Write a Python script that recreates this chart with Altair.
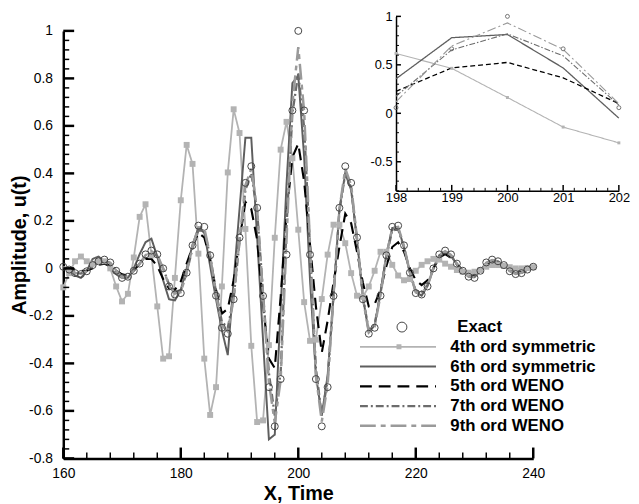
import altair as alt
import pandas as pd

# ---------------- data ----------------
x_vals = list(range(160, 241))

exact = [0.007, -0.005, -0.02, -0.024, -0.012, 0.014, 0.03, 0.037, 0.025, -0.01,
         -0.04, -0.035, -0.01, 0.02, 0.059, 0.075, 0.059, 0.0, -0.076, -0.11,
         -0.104, -0.018, 0.097, 0.18, 0.175, 0.055, -0.115, -0.25, -0.275, -0.13,
         0.13, 0.36, 0.43, 0.255, -0.116, -0.5, -0.665, -0.466, 0.058, 0.665,
         1.0,
         0.665, 0.058, -0.466, -0.665, -0.5, -0.116, 0.255, 0.43, 0.36, 0.13,
         -0.13, -0.275, -0.25, -0.115, 0.055, 0.175, 0.18, 0.097, -0.018, -0.104,
         -0.11, -0.076, 0.0, 0.059, 0.075, 0.059, 0.02, -0.01, -0.035, -0.04,
         -0.01, 0.025, 0.037, 0.03, 0.014, -0.012, -0.024, -0.02, -0.005, 0.007]

sym4 = [-0.08, -0.02, 0.03, 0.05, 0.03, 0.02, 0.03, 0.03, 0.0, -0.076,
        -0.139, -0.107, 0.046, 0.217, 0.27, 0.055, -0.16, -0.38, -0.37, -0.04,
        0.287, 0.52, 0.44, 0.062, -0.38, -0.617, -0.5, -0.076, 0.404, 0.67,
        0.57, 0.166, -0.326, -0.647, -0.64, -0.323, 0.129, 0.5, 0.617, 0.464,
        0.163,
        -0.142, -0.305, -0.30, -0.129, 0.058, 0.184, 0.184, 0.106, -0.02, -0.115,
        -0.12, -0.076, -0.01, 0.07, 0.07, 0.015, -0.03, -0.05, -0.045, -0.01,
        0.015, 0.03, 0.04, 0.037, 0.02, 0.007, -0.007, -0.014, -0.018, -0.014,
        -0.007, 0.007, 0.014, 0.014, 0.01, 0.005, 0.0, 0.0, 0.002, 0.005]

sym6 = [0.0, -0.005, -0.03, -0.04, -0.01, 0.04, 0.05, 0.03, 0.0, -0.025,
        -0.04, -0.04, 0.0, 0.06, 0.11, 0.125, 0.05, -0.05, -0.13, -0.135,
        -0.09, 0.0, 0.1, 0.17, 0.15, 0.01, -0.13, -0.26, -0.365, -0.05,
        0.25, 0.55, 0.55, 0.13, -0.3, -0.72, -0.70, -0.17, 0.356, 0.78,
        0.813,
        0.468, -0.05, -0.45, -0.62, -0.45, -0.12, 0.25, 0.40, 0.33, 0.12,
        -0.12, -0.27, -0.24, -0.1, 0.06, 0.17, 0.17, 0.09, -0.02, -0.1,
        -0.115, -0.075, 0.0, 0.055, 0.07, 0.055, 0.015, -0.015, -0.035, -0.035,
        -0.01, 0.02, 0.035, 0.03, 0.015, -0.005, -0.02, -0.02, -0.005, 0.005]

weno5 = [0.0, 0.0, -0.005, -0.01, -0.01, 0.0, 0.015, 0.02, 0.01, -0.01,
         -0.025, -0.03, -0.01, 0.02, 0.04, 0.04, 0.01, -0.045, -0.085, -0.09,
         -0.055, 0.02, 0.09, 0.15, 0.13, 0.04, -0.09, -0.19, -0.17, -0.05,
         0.12, 0.28, 0.25, 0.12, -0.15, -0.38, -0.42, -0.12, 0.227, 0.468,
         0.525,
         0.366, 0.10, -0.16, -0.355, -0.22, -0.06, 0.09, 0.23, 0.19, 0.07,
         -0.06, -0.16, -0.15, -0.09, 0.01, 0.09, 0.11, 0.07, 0.0, -0.05,
         -0.07, -0.05, 0.0, 0.045, 0.06, 0.045, 0.02, -0.01, -0.03, -0.03,
         -0.01, 0.015, 0.028, 0.025, 0.01, -0.005, -0.014, -0.01, 0.0, 0.005]

weno7 = [0.005, -0.005, -0.018, -0.022, -0.01, 0.012, 0.027, 0.033, 0.022, -0.008,
         -0.035, -0.032, -0.01, 0.02, 0.052, 0.067, 0.052, 0.0, -0.068, -0.098,
         -0.093, -0.018, 0.085, 0.16, 0.158, 0.052, -0.1, -0.225, -0.25, -0.125,
         0.11, 0.33, 0.4, 0.24, -0.1, -0.44, -0.62, -0.44, 0.176, 0.654,
         0.82,
         0.593, 0.085, -0.42, -0.62, -0.47, -0.11, 0.24, 0.4, 0.34, 0.12,
         -0.12, -0.26, -0.235, -0.105, 0.05, 0.16, 0.165, 0.088, -0.016, -0.095,
         -0.1, -0.07, 0.0, 0.054, 0.068, 0.054, 0.018, -0.009, -0.032, -0.036,
         -0.009, 0.022, 0.033, 0.027, 0.012, -0.011, -0.022, -0.018, -0.005, 0.006]

weno9 = [0.006, -0.005, -0.019, -0.023, -0.011, 0.013, 0.029, 0.035, 0.024, -0.009,
         -0.038, -0.034, -0.01, 0.02, 0.056, 0.072, 0.057, 0.0, -0.073, -0.106,
         -0.1, -0.018, 0.093, 0.173, 0.17, 0.054, -0.11, -0.24, -0.265, -0.128,
         0.125, 0.35, 0.42, 0.25, -0.11, -0.48, -0.65, -0.47, 0.119, 0.695,
         0.932,
         0.66, 0.10, -0.45, -0.645, -0.49, -0.115, 0.248, 0.42, 0.35, 0.127,
         -0.126, -0.268, -0.245, -0.112, 0.054, 0.17, 0.175, 0.094, -0.017, -0.1,
         -0.106, -0.073, 0.0, 0.057, 0.072, 0.057, 0.019, -0.01, -0.034, -0.038,
         -0.01, 0.024, 0.035, 0.029, 0.013, -0.011, -0.023, -0.019, -0.005, 0.006]

series_names = ["4th ord symmetric", "6th ord symmetric", "5th ord WENO",
                "7th ord WENO", "9th ord WENO"]
series_values = [sym4, sym6, weno5, weno7, weno9]

main_x_ticks = [160, 180, 200, 220, 240]
main_y_ticks = [-0.8, -0.6, -0.4, -0.2, 0, 0.2, 0.4, 0.6, 0.8, 1]
inset_x_ticks = [198, 199, 200, 201, 202]
inset_y_ticks = [-0.5, 0, 0.5, 1]

for v in [exact] + series_values:
    assert len(v) == len(x_vals), len(v)

# ---------------- styles ----------------
FONT = "Liberation Sans"
series_colors = ["#b3b3b3", "#5e5e5e", "#000000", "#6c6c6c", "#9a9a9a"]
series_dash = [[1, 0], [1, 0], [12, 7], [8, 3, 2, 3], [16, 5, 5, 5]]
series_width = [1.8, 2.5, 2.5, 2.0, 2.0]
inset_dash = [[1, 0], [1, 0], [5, 3], [6, 2, 1.5, 2], [9, 3, 2, 3]]
inset_width = [1.1, 1.3, 1.3, 1.1, 1.1]

W, H = 476, 433
IX0, IX1 = 337.0, 562.7     # inset x range (plot px)
IY0, IY1 = 162.0, -14.7     # inset y range (bottom, top)

# ---------------- frames ----------------
rows = []
for name, vals in zip(series_names, series_values):
    for xv, yv in zip(x_vals, vals):
        rows.append({"x": xv, "y": yv, "method": name})
lines_df = pd.DataFrame(rows)
exact_df = pd.DataFrame({"x": x_vals, "y": exact, "label": "Exact"})
sym4_df = pd.DataFrame({"x": x_vals, "y": sym4, "marker": "sq"})

inset_lines = lines_df[(lines_df.x >= 198) & (lines_df.x <= 202)]
inset_exact = exact_df[(exact_df.x >= 198) & (exact_df.x <= 202)]
inset_sym4 = sym4_df[(sym4_df.x >= 198) & (sym4_df.x <= 202)]

main_x_minor = [v for v in range(160, 241, 4) if v not in main_x_ticks]
main_y_minor = [round(-0.8 + 0.04 * i, 2) for i in range(46)]
main_y_minor = [v for v in main_y_minor if min(abs(v - t) for t in main_y_ticks) > 1e-6]
inset_x_minor = [round(198 + 0.2 * i, 1) for i in range(21)]
inset_x_minor = [v for v in inset_x_minor if min(abs(v - t) for t in inset_x_ticks) > 1e-6]
inset_y_minor = [round(-0.8 + 0.1 * i, 1) for i in range(19)]
inset_y_minor = [v for v in inset_y_minor if min(abs(v - t) for t in inset_y_ticks) > 1e-6]

# ---------------- scales / axes ----------------
XS = alt.Scale(domain=[160, 240], nice=False, zero=False)
YS = alt.Scale(domain=[-0.8, 1], nice=False, zero=False)
IXS = alt.Scale(domain=[198, 202], range=[IX0, IX1], nice=False, zero=False)
IYS = alt.Scale(domain=[-0.8, 1], range=[IY0, IY1], nice=False, zero=False)

common_axis = dict(ticks=False, tickSize=0, grid=False, domainColor="black",
                   labelColor="black", labelFont=FONT, labelFlush=False,
                   labelOverlap=False, labelExpr="toString(datum.value)")

x_axis = alt.Axis(values=main_x_ticks, domainWidth=2.5, labelFontSize=14,
                  labelPadding=8, title="X, Time", titleFont=FONT,
                  titleFontSize=20, titleFontWeight="bold", titleColor="black",
                  titleBaseline="middle", titleY=36, **common_axis)
y_axis = alt.Axis(values=main_y_ticks, domainWidth=2.5, labelFontSize=14,
                  labelPadding=11, title="Amplitude, u(t)", titleFont=FONT,
                  titleFontSize=20, titleFontWeight="bold", titleColor="black",
                  titleBaseline="middle", titleX=-44, titleY=H / 2, titleAngle=270,
                  **common_axis)
ix_axis = alt.Axis(orient="bottom", offset=-(H - IY0), values=inset_x_ticks,
                   domainWidth=1.5, labelFontSize=13, labelPadding=1, title=None,
                   **common_axis)
iy_axis = alt.Axis(orient="left", offset=-IX0, values=inset_y_ticks,
                   domainWidth=1.5, labelFontSize=13, labelPadding=4, title=None,
                   **common_axis)

LEG_Y0 = 310
line_leg = alt.Legend(title=None, orient="none", legendX=299, legendY=LEG_Y0,
                      symbolType="stroke", symbolSize=77 * 77, labelFont=FONT,
                      labelFontSize=17, labelFontWeight="bold", labelColor="black",
                      labelOffset=13, clipHeight=20, rowPadding=0, padding=0)
exact_leg = alt.Legend(title=None, orient="none", legendX=334.5, legendY=LEG_Y0 - 20,
                       labelFont=FONT, labelFontSize=17, labelFontWeight="bold",
                       labelColor="black", labelOffset=47.5, clipHeight=20,
                       padding=0, symbolStrokeWidth=1)
square_leg = alt.Legend(title=None, orient="none", legendX=335, legendY=LEG_Y0,
                        labelExpr="''", clipHeight=20, padding=0, symbolSize=25,
                        symbolFillColor="#b3b3b3", symbolStrokeColor="#b3b3b3",
                        symbolStrokeWidth=0)

# ---------------- main layers ----------------
lines = alt.Chart(lines_df).mark_line(clip=False).encode(
    x=alt.X("x:Q", scale=XS, axis=x_axis),
    y=alt.Y("y:Q", scale=YS, axis=y_axis),
    color=alt.Color("method:N", sort=series_names,
                    scale=alt.Scale(domain=series_names, range=series_colors), legend=line_leg),
    strokeDash=alt.StrokeDash("method:N", sort=series_names,
                              scale=alt.Scale(domain=series_names, range=series_dash), legend=line_leg),
    strokeWidth=alt.StrokeWidth("method:N", sort=series_names,
                                scale=alt.Scale(domain=series_names, range=series_width), legend=line_leg),
    order=alt.Order("x:Q"),
)
squares = alt.Chart(sym4_df).mark_point(filled=True, size=36, color="#b3b3b3", opacity=1).encode(
    x=alt.X("x:Q", scale=XS), y=alt.Y("y:Q", scale=YS),
    shape=alt.Shape("marker:N", scale=alt.Scale(domain=["sq"], range=["square"]), legend=square_leg))
circles = alt.Chart(exact_df).mark_point(filled=False, size=50, strokeWidth=1,
                                         color="#444444", opacity=1).encode(
    x=alt.X("x:Q", scale=XS), y=alt.Y("y:Q", scale=YS),
    shape=alt.Shape("label:N", scale=alt.Scale(domain=["Exact"], range=["circle"]), legend=exact_leg))


def yticks(vals, scale, x0, length, width):
    return alt.Chart(pd.DataFrame({"y": vals})).mark_rule(color="black", strokeWidth=width).encode(
        y=alt.Y("y:Q", scale=scale), x=alt.value(x0), x2=alt.value(x0 + length))


def xticks(vals, scale, y0, length, width):
    return alt.Chart(pd.DataFrame({"x": vals})).mark_rule(color="black", strokeWidth=width).encode(
        x=alt.X("x:Q", scale=scale), y=alt.value(y0), y2=alt.value(y0 - length))


main = alt.layer(
    lines, squares, circles,
    yticks(main_y_ticks, YS, 0, 11, 2.5), yticks(main_y_minor, YS, 0, 6, 1.5),
    xticks(main_x_ticks, XS, H, 11, 2.5), xticks(main_x_minor, XS, H, 6, 1.5),
).resolve_scale(shape="independent")

# ---------------- inset layers ----------------
inset_layers = []
for i, name in enumerate(series_names):
    d = inset_lines[inset_lines.method == name]
    enc = dict(x=alt.X("x:Q", scale=IXS), y=alt.Y("y:Q", scale=IYS))
    if i == 0:
        enc = dict(x=alt.X("x:Q", scale=IXS, axis=ix_axis), y=alt.Y("y:Q", scale=IYS, axis=iy_axis))
    inset_layers.append(alt.Chart(d).mark_line(color=series_colors[i], strokeDash=inset_dash[i],
                                               strokeWidth=inset_width[i], clip=False).encode(**enc))
inset_layers.append(alt.Chart(inset_sym4).mark_square(filled=True, size=9, color="#b3b3b3", opacity=1).encode(
    x=alt.X("x:Q", scale=IXS), y=alt.Y("y:Q", scale=IYS)))
inset_layers.append(alt.Chart(inset_exact).mark_point(filled=False, size=16, strokeWidth=0.8,
                                                     color="#555555", opacity=1).encode(
    x=alt.X("x:Q", scale=IXS), y=alt.Y("y:Q", scale=IYS)))
inset_layers += [
    yticks(inset_y_ticks, IYS, IX0, 5, 1.5), yticks(inset_y_minor, IYS, IX0, 3, 1),
    xticks(inset_x_ticks, IXS, IY0, 6, 1.5), xticks(inset_x_minor, IXS, IY0, 3, 1),
]
inset = alt.layer(*inset_layers)

chart = alt.layer(main, inset).resolve_scale(x="independent", y="independent").properties(
    width=W, height=H,
    autosize=alt.AutoSizeParams(type="none"),
    padding={"left": 56, "top": 20, "right": 99, "bottom": 43},
    background="white",
).configure_view(stroke=None)

chart.save("out.html", embed_options={"renderer": "svg", "actions": False})
